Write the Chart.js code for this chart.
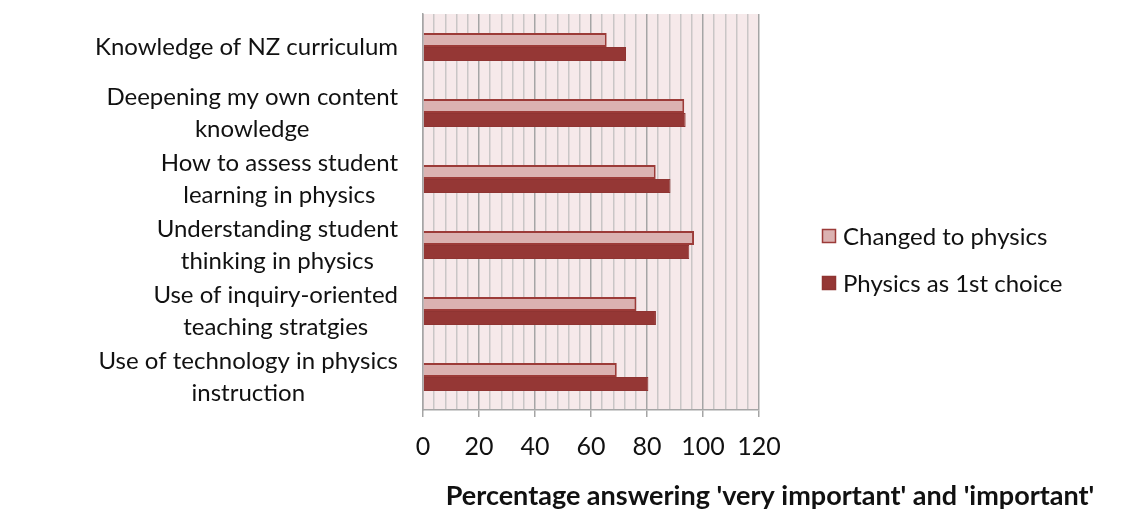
<!DOCTYPE html>
<html>
<head>
<meta charset="utf-8">
<script src="https://cdn.jsdelivr.net/npm/chart.js@4"></script>
<style>
  html, body { margin: 0; padding: 0; background: #fff; }
  #wrap { width: 1140px; height: 509px; position: relative; }
</style>
</head>
<body>
<div id="wrap"><canvas id="topicChart"></canvas></div>
<script>
// Data
const categories = [
  ['Knowledge of NZ curriculum'],
  ['Deepening my own content', 'knowledge'],
  ['How to assess student', 'learning in physics'],
  ['Understanding student', 'thinking in physics'],
  ['Use of inquiry-oriented', 'teaching stratgies'],
  ['Use of technology in physics', 'instruction']
];
const changedToPhysics = [65.6, 93.3, 83.1, 96.8, 76.2, 69.2];
const physicsFirstChoice = [72.5, 93.8, 88.4, 95.1, 83.2, 80.5];
const seriesNames = ['Changed to physics', 'Physics as 1st choice'];
const xTicks = [0, 20, 40, 60, 80, 100, 120];
const axisTitle = "Percentage answering 'very important' and 'important'";

const FONT = 'Lato, "Open Sans", sans-serif';

// pink plot background
const plotBg = {
  id: 'plotBg',
  beforeDraw(chart) {
    const { ctx, chartArea: a } = chart;
    ctx.save();
    ctx.fillStyle = '#f6e9ea';
    ctx.fillRect(a.left, a.top, a.right - a.left, a.bottom - a.top);
    ctx.restore();
  }
};

// category labels: block right-aligned, lines centred (like the original)
const catLabels = {
  id: 'catLabels',
  afterDraw(chart) {
    const ctx = chart.ctx;
    const y = chart.scales.y;
    const lh = 32;
    ctx.save();
    ctx.font = '24px ' + FONT;
    ctx.fillStyle = '#111';
    ctx.textAlign = 'center';
    ctx.textBaseline = 'middle';
    chart.data.labels.forEach((lines, i) => {
      const cy = y.getPixelForTick(i);
      const w = Math.max(...lines.map(l => ctx.measureText(l).width));
      const cx = 398 - w / 2;
      const y0 = cy - (lines.length - 1) * lh / 2;
      lines.forEach((l, j) => ctx.fillText(l, cx, y0 + j * lh));
    });
    ctx.restore();
  }
};

// legend + bottom title at fixed spots
const sideText = {
  id: 'sideText',
  afterDraw(chart) {
    const ctx = chart.ctx;
    ctx.save();
    ctx.font = '24px ' + FONT;
    ctx.textBaseline = 'middle';
    const rows = [236, 283];
    chart.data.datasets.forEach((ds, i) => {
      const y = rows[i];
      ctx.fillStyle = ds.backgroundColor;
      ctx.fillRect(822, y - 7, 14, 14);
      ctx.strokeStyle = ds.borderColor;
      ctx.lineWidth = 1.5;
      ctx.strokeRect(822.5, y - 6.5, 13, 13);
      ctx.fillStyle = '#111';
      ctx.fillText(ds.label, 843, y + 1);
    });
    ctx.font = 'bold 27px ' + FONT;
    ctx.textAlign = 'center';
    ctx.fillText(axisTitle, 770, 496);
    ctx.restore();
  }
};

new Chart(document.getElementById('topicChart'), {
  type: 'bar',
  data: {
    labels: categories,
    datasets: [{
      label: seriesNames[0],
      data: changedToPhysics,
      backgroundColor: '#dbb2b1',
      borderColor: '#9c3b38',
      borderWidth: 2,
      borderSkipped: 'left'
    }, {
      label: seriesNames[1],
      data: physicsFirstChoice,
      backgroundColor: '#953735',
      borderColor: '#8f3432',
      borderWidth: 1,
      borderSkipped: 'left'
    }]
  },
  options: {
    indexAxis: 'y',
    responsive: true,
    maintainAspectRatio: false,
    animation: false,
    categoryPercentage: 0.424,
    barPercentage: 1,
    layout: { padding: { top: 14, right: 381, bottom: 0, left: 0 } },
    plugins: {
      legend: { display: false },
      tooltip: { enabled: false }
    },
    scales: {
      x: {
        min: 0,
        max: 120,
        afterBuildTicks(scale) {
          const t = [];
          for (let v = 0; v <= 120; v += 4) t.push({ value: v });
          scale.ticks = t;
        },
        afterFit(scale) { scale.height = 99; },
        ticks: {
          color: '#111',
          font: { family: FONT, size: 25 },
          padding: 15,
          maxRotation: 0,
          autoSkip: false,
          callback: (v) => xTicks.includes(v) ? String(v) : ''
        },
        grid: {
          color: (c) => c.tick && c.tick.value % 20 === 0 ? '#a5a5a5' : '#c9c6c6',
          lineWidth: 1.5,
          tickLength: 7,
          tickColor: (c) => c.tick && c.tick.value % 20 === 0 ? '#a5a5a5' : 'rgba(0,0,0,0)'
        },
        border: { color: '#a5a5a5', width: 1.5 }
      },
      y: {
        afterFit(scale) {
          scale.width = 423;
          scale.paddingTop = 0;
          scale.paddingBottom = 0;
        },
        ticks: { display: false },
        grid: { display: false },
        border: { color: '#a5a5a5', width: 1.5 }
      }
    }
  },
  plugins: [plotBg, catLabels, sideText]
});
</script>
</body>
</html>
